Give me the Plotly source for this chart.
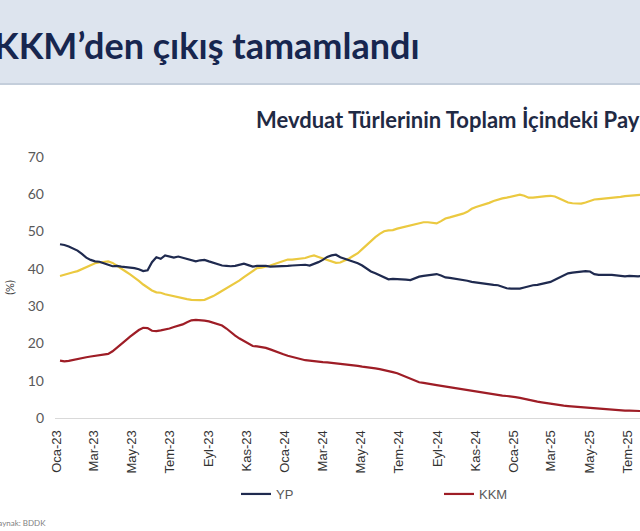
import pandas as pd
import plotly.graph_objects as go

# weekly observation dates (Fridays)
dates = pd.date_range("2023-01-06", periods=135, freq="7D")

yp = [46.6, 46.4, 46.0, 45.5, 44.9, 44.0, 43.0, 42.4, 42.0, 41.9,
      41.6, 41.1, 40.7, 40.8, 40.6, 40.5, 40.4, 40.2, 39.9, 39.4,
      39.6, 41.8, 43.1, 42.7, 43.6, 43.3, 43.0, 43.3, 43.0, 42.6,
      42.2, 42.0, 42.3, 42.4, 42.0, 41.6, 41.2, 40.9, 40.8, 40.7,
      40.8, 41.1, 41.4, 41.0, 40.6, 40.8, 40.9, 40.8, 40.6, 40.6,
      40.7, 40.6, 40.8, 40.9, 41.0, 41.2, 41.1, 40.9, 41.3, 41.8,
      42.4, 43.2, 43.6, 43.8, 43.1, 42.7, 42.5, 42.1, 41.5, 40.9,
      40.0, 39.3, 38.8, 38.3, 37.8, 37.2, 37.3, 37.3, 37.2, 37.1,
      37.0, 37.5, 37.9, 38.1, 38.2, 38.3, 38.6, 38.2, 37.7, 37.6,
      37.4, 37.3, 37.0, 36.8, 36.5, 36.3, 36.2, 36.1, 35.9, 35.7,
      35.6, 35.2, 34.8, 34.7, 34.6, 34.7, 35.0, 35.4, 35.6, 35.7,
      35.9, 36.2, 36.5, 37.1, 37.7, 38.3, 38.8, 39.0, 39.2, 39.3,
      39.4, 39.3, 38.6, 38.4, 38.5, 38.4, 38.4, 38.3, 38.1, 38.0,
      38.1, 38.0, 38.0, 38.1, 38.0]

tl = [38.1, 38.5, 38.8, 39.1, 39.4, 39.9, 40.6, 41.1, 41.5, 41.7,
      41.9, 42.0, 41.6, 40.9, 40.1, 39.3, 38.5, 37.7, 36.8, 35.8,
      35.0, 34.2, 33.7, 33.6, 33.2, 32.9, 32.6, 32.4, 32.0, 31.9,
      31.7, 31.6, 31.6, 31.7, 32.1, 32.7, 33.4, 34.1, 34.8, 35.4,
      36.1, 36.9, 37.8, 38.6, 39.5, 40.2, 40.3, 40.5, 40.9, 41.3,
      41.7, 42.2, 42.5, 42.5, 42.6, 42.7, 42.9, 43.3, 43.6, 43.2,
      42.8, 42.3, 41.9, 41.6, 41.7, 42.2, 42.8, 43.5, 44.2, 45.3,
      46.4, 47.4, 48.5, 49.4, 50.1, 50.3, 50.4, 50.8, 51.1, 51.4,
      51.8, 52.1, 52.3, 52.5, 52.5, 52.3, 52.2, 52.8, 53.5, 53.8,
      54.1, 54.4, 54.8, 55.3, 56.1, 56.6, 56.9, 57.3, 57.7, 58.2,
      58.6, 58.9, 59.1, 59.3, 59.6, 59.9, 59.6, 59.1, 59.1, 59.3,
      59.4, 59.5, 59.6, 59.4, 58.9, 58.3, 57.8, 57.6, 57.5, 57.5,
      57.8, 58.3, 58.6, 58.7, 58.8, 58.9, 59.0, 59.2, 59.3, 59.5,
      59.6, 59.7, 59.8, 59.9, 60.0]

kkm = [15.4, 15.2, 15.3, 15.6, 15.9, 16.1, 16.3, 16.5, 16.7, 16.8,
       17.0, 17.2, 17.9, 18.8, 19.8, 20.8, 21.8, 22.8, 23.6, 24.2,
       24.1, 23.4, 23.3, 23.5, 23.7, 24.0, 24.4, 24.7, 25.1, 25.7,
       26.2, 26.3, 26.3, 26.1, 25.9, 25.5, 25.1, 24.8, 24.0, 23.0,
       22.1, 21.3, 20.6, 19.9, 19.3, 19.2, 19.1, 18.8, 18.4, 17.9,
       17.5, 17.1, 16.7, 16.4, 16.0, 15.7, 15.5, 15.4, 15.2, 15.1,
       15.0, 14.9, 14.8, 14.7, 14.6, 14.5, 14.3, 14.2, 14.0, 13.8,
       13.7, 13.5, 13.3, 13.1, 12.9, 12.6, 12.3, 12.0, 11.5, 10.9,
       10.4, 10.0, 9.6, 9.4, 9.3, 9.0, 8.8, 8.6, 8.5, 8.3,
       8.1, 7.9, 7.6, 7.4, 7.2, 7.0, 6.8, 6.6, 6.4, 6.3,
       6.2, 6.0, 5.9, 5.8, 5.6, 5.4, 5.2, 5.0, 4.7, 4.4,
       4.2, 4.0, 3.7, 3.6, 3.4, 3.3, 3.2, 3.1, 2.9, 2.8,
       2.7, 2.6, 2.5, 2.4, 2.3, 2.3, 2.2, 2.1, 2.1, 2.0,
       2.0, 1.9, 1.9, 1.9, 1.8]

tick_vals = ["2023-01-01", "2023-03-01", "2023-05-01", "2023-07-01", "2023-09-01",
             "2023-11-01", "2024-01-01", "2024-03-01", "2024-05-01", "2024-07-01",
             "2024-09-01", "2024-11-01", "2025-01-01", "2025-03-01", "2025-05-01",
             "2025-07-01"]
tick_text = ["Oca-23", "Mar-23", "May-23", "Tem-23", "Eyl-23", "Kas-23",
             "Oca-24", "Mar-24", "May-24", "Tem-24", "Eyl-24", "Kas-24",
             "Oca-25", "Mar-25", "May-25", "Tem-25"]

y_ticks = [0, 10, 20, 30, 40, 50, 60, 70]

NAVY = "#1f2a4f"
RED = "#9e1d26"
YEL = "#ebc940"
FONT = "Lato"
TICKFONT = "Liberation Sans"

W, H = 640, 531
ML, MR, MT, MB = 55, 0, 157, 113
PW = W - ML - MR
PH = H - MT - MB


def px(x):
    return (x - ML) / PW


def py(y):
    return (H - MB - y) / PH


fig = go.Figure()
fig.add_trace(go.Scatter(x=dates, y=tl, name="TL", mode="lines",
                         line=dict(color=YEL, width=2.2), showlegend=False))
fig.add_trace(go.Scatter(x=dates, y=yp, name="YP", mode="lines",
                         line=dict(color=NAVY, width=2.2)))
fig.add_trace(go.Scatter(x=dates, y=kkm, name="KKM", mode="lines",
                         line=dict(color=RED, width=2.2)))

fig.update_layout(
    width=W, height=H,
    margin=dict(l=ML, r=MR, t=MT, b=MB, autoexpand=False),
    paper_bgcolor="white", plot_bgcolor="white",
    font=dict(family=FONT, color="#595959"),
    showlegend=True,
    legend=dict(orientation="h", x=px(236), y=py(494), xanchor="left",
                yanchor="middle", entrywidth=158, entrywidthmode="pixels",
                font=dict(size=13, color="#595959", family=TICKFONT),
                bgcolor="rgba(0,0,0,0)"),
    xaxis=dict(type="date", range=["2022-12-29", "2025-07-21"],
               tickvals=tick_vals, ticktext=tick_text, tickangle=-90,
               tickfont=dict(size=13, color="#333333", family=TICKFONT),
               ticklabelstandoff=6,
               showgrid=False, zeroline=False, showline=True,
               linecolor="#d9d9d9", linewidth=1, ticks="", fixedrange=True),
    yaxis=dict(range=[0, 70], tickvals=y_ticks, showgrid=False, zeroline=False,
               showline=False, ticks="", ticklabelstandoff=10,
               tickfont=dict(size=14, color="#595959"),
               title=dict(text="(%)", standoff=10,
                          font=dict(size=11, color="#404040"))),
    shapes=[
        dict(type="rect", xref="paper", yref="paper", x0=px(-5), x1=px(645),
             y0=py(84), y1=py(-5), fillcolor="#dde4ee", line=dict(width=0),
             layer="below"),
        dict(type="line", xref="paper", yref="paper", x0=px(-5), x1=px(645),
             y0=py(84), y1=py(84), line=dict(color="#c4cedb", width=2)),
    ],
    annotations=[
        dict(text="<b>KKM’den çıkış tamamlandı</b>", xref="paper", yref="paper",
             x=px(-8), y=py(45), xanchor="left", yanchor="middle", showarrow=False,
             font=dict(size=36, color="#17264f", family=FONT)),
        dict(text="<b>Mevduat Türlerinin Toplam İçindeki Payları</b>", xref="paper",
             yref="paper", x=px(254), y=py(120), xanchor="left", yanchor="middle",
             showarrow=False, font=dict(size=22, color="#1f2a44", family=FONT)),
        dict(text="Kaynak: BDDK", xref="paper", yref="paper", x=px(-9), y=py(523),
             xanchor="left", yanchor="middle", showarrow=False,
             font=dict(size=8, color="#7f7f7f", family=FONT)),
    ],
)

fig.write_html("out.html", config={"displayModeBar": False},
               post_script="document.body.style.margin='0';")
